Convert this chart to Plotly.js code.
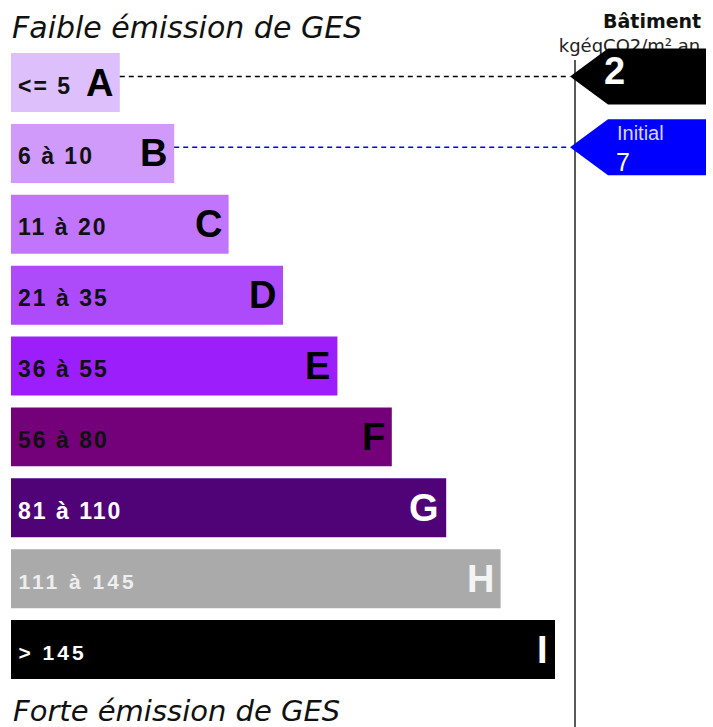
<!DOCTYPE html>
<html>
<head>
<meta charset="utf-8">
<script src="https://cdn.plot.ly/plotly-3.0.1.min.js"></script>
<style>
  html, body { margin: 0; padding: 0; background: #ffffff; }
  #chart { width: 713px; height: 727px; }
</style>
<style id="spacing"></style>
</head>
<body>
<div id="chart"></div>
<script>
// ---------------- data ----------------
const classes = ['A', 'B', 'C', 'D', 'E', 'F', 'G', 'H', 'I'];
const rangeLabels = ['<= 5', '6 à 10', '11 à 20', '21 à 35', '36 à 55', '56 à 80', '81 à 110', '111 à 145', '> 145'];
const barLengths = [2, 3, 4, 5, 6, 7, 8, 9, 10];
const upperBounds = [5, 10, 20, 35, 55, 80, 110, 145, Infinity];
const buildingValue = 2;
const initialValue = 7;
const initialLabel = 'Initial';
const headerTitle = 'Bâtiment';
const unitLabel = 'kgéqCO2/m² an';
const topNote = 'Faible émission de GES';
const bottomNote = 'Forte émission de GES';

// ---------------- styles ----------------
const barColors = ['#dcbffb', '#d09afb', '#c175fd', '#ad4bfb', '#9b1efb', '#74007a', '#500377', '#aaaaaa', '#000000'];
const letterColors = ['#000000', '#000000', '#000000', '#000000', '#000000', '#000000', '#ffffff', '#f4f4f4', '#ffffff'];
const labelColors = ['#111111', '#111111', '#111111', '#111111', '#111111', '#111111', '#ffffff', '#eeeeee', '#ffffff'];

const W = 713, H = 727;
const X0 = 11, UNIT = 54.4;          // bar base pixel, pixels per length unit
const Y_FIRST = 82.5, STEP = 70.875; // first bar centre pixel, pixels per class
const xpx = p => (p - X0) / UNIT;
const ypx = p => (p - Y_FIRST) / STEP;
const SANS = 'Liberation Sans, Arial, sans-serif';
const DEJA = 'DejaVu Sans, Verdana, sans-serif';

function classIndex(v) {
  for (let i = 0; i < upperBounds.length; i++) if (v <= upperBounds[i]) return i;
  return upperBounds.length - 1;
}

const idx = classes.map((c, i) => i);

const barTrace = {
  type: 'bar', orientation: 'h',
  x: barLengths, y: idx, base: 0,
  width: 59 / STEP,
  marker: { color: barColors, line: { width: 0 } },
  hoverinfo: 'none', showlegend: false
};

const unitTrace = {
  type: 'scatter', mode: 'text',
  x: [xpx(629.5)], y: [ypx(47)],
  text: [unitLabel],
  textposition: 'middle center',
  textfont: { family: DEJA, size: 18, color: '#222222' },
  cliponaxis: false, hoverinfo: 'none', showlegend: false
};

const annotations = [];
const spacingOf = i => (i < 7 ? 2 : 3);
// range labels (indices 0..8)
rangeLabels.forEach((t, i) => {
  const small = i >= 7;
  annotations.push({
    x: 0, y: i, xref: 'x', yref: 'y', xanchor: 'left', yanchor: 'middle',
    xshift: 7 + t.length * spacingOf(i) / 2, yshift: -3, showarrow: false, text: t,
    borderpad: 0, borderwidth: 0,
    font: { family: SANS, size: small ? 21 : 23, weight: 'bold', color: labelColors[i] }
  });
});
// class letters
classes.forEach((c, i) => {
  annotations.push({
    x: barLengths[i], y: i, xref: 'x', yref: 'y', xanchor: 'right', yanchor: 'middle',
    xshift: -7, yshift: 0, showarrow: false, text: c,
    borderpad: 0, borderwidth: 0,
    font: { family: SANS, size: 38, weight: 'bold', color: letterColors[i] }
  });
});
// notes
annotations.push({
  x: 12 / W, y: 1 - 28 / H, xref: 'paper', yref: 'paper', xanchor: 'left', yanchor: 'middle',
  showarrow: false, text: topNote, borderpad: 0, borderwidth: 0,
  font: { family: DEJA, size: 30, style: 'italic', color: '#111111' }
});
annotations.push({
  x: 13 / W, y: 1 - 711 / H, xref: 'paper', yref: 'paper', xanchor: 'left', yanchor: 'middle',
  showarrow: false, text: bottomNote, borderpad: 0, borderwidth: 0,
  font: { family: DEJA, size: 29, style: 'italic', color: '#111111' }
});
annotations.push({
  x: 652 / W, y: 1 - 21 / H, xref: 'paper', yref: 'paper', xanchor: 'center', yanchor: 'middle',
  showarrow: false, text: headerTitle, borderpad: 0, borderwidth: 0,
  font: { family: DEJA, size: 19, weight: 'bold', color: '#111111' }
});

// arrows
const OFF = -0.085, HH = 28 / STEP;
const tipX = xpx(570), bodyX = xpx(608), rightX = xpx(706);
function arrowPath(yc) {
  return `M${tipX},${yc} L${bodyX},${yc - HH} L${rightX},${yc - HH} L${rightX},${yc + HH} L${bodyX},${yc + HH} Z`;
}
const bIdx = classIndex(buildingValue);
const iIdx = classIndex(initialValue);
const bY = bIdx + OFF, iY = iIdx + OFF;

const shapes = [
  { type: 'line', xref: 'x', yref: 'paper', x0: xpx(575), x1: xpx(575), y0: 0, y1: 1 - 60 / H,
    line: { color: '#5a5a5a', width: 2 }, layer: 'above' },
  { type: 'line', xref: 'x', yref: 'y', x0: barLengths[bIdx], x1: tipX, y0: bY, y1: bY,
    line: { color: '#000000', width: 1.5, dash: '5px,4px' }, layer: 'above' },
  { type: 'line', xref: 'x', yref: 'y', x0: barLengths[iIdx], x1: tipX, y0: iY, y1: iY,
    line: { color: '#0000ff', width: 1.5, dash: '5px,4px' }, layer: 'above' },
  { type: 'path', xref: 'x', yref: 'y', path: arrowPath(bY), fillcolor: '#000000',
    line: { width: 0 }, layer: 'above' },
  { type: 'path', xref: 'x', yref: 'y', path: arrowPath(iY), fillcolor: '#0000ff',
    line: { width: 0 }, layer: 'above' }
];

annotations.push({
  x: xpx(604), y: bY, xref: 'x', yref: 'y', xanchor: 'left', yanchor: 'middle', yshift: 5,
  showarrow: false, text: String(buildingValue), borderpad: 0, borderwidth: 0,
  font: { family: SANS, size: 38, weight: 'bold', color: '#ffffff' }
});
annotations.push({
  x: xpx(617), y: iY, xref: 'x', yref: 'y', xanchor: 'left', yanchor: 'middle', yshift: 14,
  showarrow: false, text: initialLabel, borderpad: 0, borderwidth: 0,
  font: { family: SANS, size: 20, color: '#d4d8ff' }
});
annotations.push({
  x: xpx(616), y: iY, xref: 'x', yref: 'y', xanchor: 'left', yanchor: 'middle', yshift: -15,
  showarrow: false, text: String(initialValue), borderpad: 0, borderwidth: 0,
  font: { family: SANS, size: 25, color: '#ffffff' }
});

// letter spacing for range labels
document.getElementById('spacing').textContent = rangeLabels.map((t, i) =>
  `g.annotation[data-index="${i}"] text.annotation-text { letter-spacing: ${spacingOf(i)}px; }`).join('\n');

const layout = {
  width: W, height: H,
  margin: { l: 0, r: 0, t: 0, b: 0, pad: 0 },
  paper_bgcolor: '#ffffff', plot_bgcolor: '#ffffff',
  showlegend: false,
  xaxis: { range: [xpx(0), xpx(W)], visible: false, fixedrange: true },
  yaxis: { range: [ypx(H), ypx(0)], visible: false, fixedrange: true },
  shapes: shapes,
  annotations: annotations
};

Plotly.newPlot('chart', [barTrace, unitTrace], layout, { displayModeBar: false, staticPlot: true });
</script>
</body>
</html>
